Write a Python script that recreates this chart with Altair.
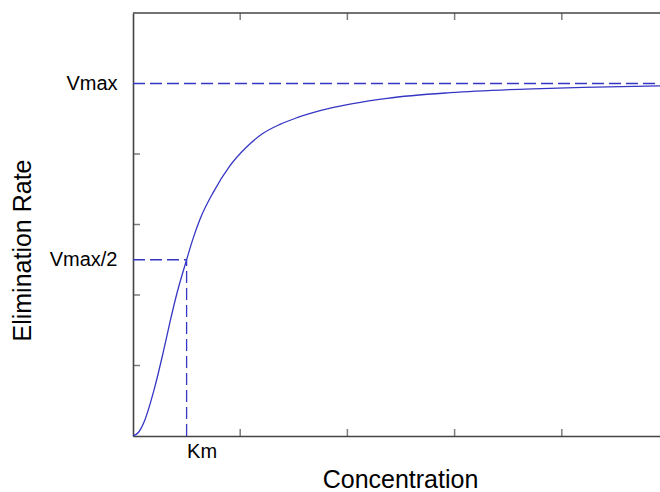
import altair as alt
import pandas as pd

# Curve values (concentration in tick units, rate as fraction of Vmax)
conc = [0, 0.05, 0.11, 0.2, 0.28, 0.35, 0.41, 0.5, 0.56, 0.625, 0.75, 0.9, 1.05,
        1.21, 1.37, 1.53, 1.84, 2.05, 2.37, 2.96, 3.73, 4.2, 4.916]
rate = [0, 0.01, 0.045, 0.135, 0.235, 0.33, 0.405, 0.5, 0.56, 0.615, 0.692, 0.765, 0.817,
        0.858, 0.884, 0.903, 0.93, 0.943, 0.958, 0.974, 0.985, 0.989, 0.993]

x_max = 4.916
y_max = 1.2
vmax = 1.0
km = 0.5
x_ticks = [1, 2, 3, 4]
y_ticks = [0.2, 0.4, 0.6, 0.8]

BLUE = "#3636c4"
AX = "#444444"
FONT = "Liberation Sans"

curve_df = pd.DataFrame({"x": conc, "y": rate})
xs = alt.Scale(domain=[0, x_max], nice=False, zero=False)
ys = alt.Scale(domain=[0, y_max], nice=False, zero=False)

curve = alt.Chart(curve_df).mark_line(color=BLUE, strokeWidth=1.3, interpolate="monotone").encode(
    x=alt.X("x:Q", scale=xs, axis=alt.Axis(
        title="Concentration", values=[km], labelExpr="'Km'", ticks=False, grid=False,
        domainColor=AX, domainWidth=1.6, labelAlign="left", labelBaseline="top",
        labelPadding=5, labelFontSize=20, labelFont=FONT, labelColor="black",
        titleFont=FONT, titleFontSize=25, titleFontWeight="normal", titleColor="black",
        titleX=267, titleY=51, titleBaseline="alphabetic", titleAlign="center")),
    y=alt.Y("y:Q", scale=ys, axis=alt.Axis(
        title="Elimination Rate", values=[km, vmax],
        labelExpr="datum.value == 1 ? 'Vmax' : 'Vmax/2'", ticks=False, grid=False,
        domainColor=AX, domainWidth=1.6, labelAlign="right", labelBaseline="middle",
        labelPadding=16, labelFontSize=20, labelFont=FONT, labelColor="black",
        titleFont=FONT, titleFontSize=25, titleFontWeight="normal", titleColor="black",
        titleX=-111, titleY=237, titleAngle=270, titleBaseline="middle", titleAlign="center")),
)

guide_df = pd.DataFrame({
    "x": [0, 0, km],
    "x2": [x_max, km, km],
    "y": [vmax, km, 0],
    "y2": [vmax, km, km],
})
guides = alt.Chart(guide_df).mark_rule(color=BLUE, strokeWidth=1.3, strokeDash=[12, 5]).encode(
    x=alt.X("x:Q", scale=xs, axis=None), x2="x2:Q",
    y=alt.Y("y:Q", scale=ys, axis=None), y2="y2:Q",
)

top_df = pd.DataFrame({"x": [0], "x2": [x_max], "y": [y_max]})
top_line = alt.Chart(top_df).mark_rule(color=AX, strokeWidth=1.6).encode(
    x=alt.X("x:Q", scale=xs, axis=None), x2="x2:Q",
    y=alt.Y("y:Q", scale=ys, axis=None),
)

xt_df = pd.DataFrame({"x": x_ticks, "yb": [0] * 4, "yt": [y_max] * 4})
bottom_ticks = alt.Chart(xt_df).mark_tick(orient="vertical", size=7, thickness=1.5, color=AX, yOffset=-3.5).encode(
    x=alt.X("x:Q", scale=xs, axis=None), y=alt.Y("yb:Q", scale=ys, axis=None))
top_ticks = alt.Chart(xt_df).mark_tick(orient="vertical", size=7, thickness=1.5, color=AX, yOffset=3.5).encode(
    x=alt.X("x:Q", scale=xs, axis=None), y=alt.Y("yt:Q", scale=ys, axis=None))

yt_df = pd.DataFrame({"y": y_ticks, "x": [0] * 4})
left_ticks = alt.Chart(yt_df).mark_tick(orient="horizontal", size=7, thickness=1.5, color=AX, xOffset=3.5).encode(
    x=alt.X("x:Q", scale=xs, axis=None), y=alt.Y("y:Q", scale=ys, axis=None))

chart = alt.layer(curve, guides, top_line, bottom_ticks, top_ticks, left_ticks).resolve_axis(
    x="independent", y="independent"
).properties(
    width=527, height=423,
    autosize=alt.AutoSizeParams(type="none"),
    padding={"left": 133, "top": 13, "right": 0, "bottom": 56},
    background="white",
).configure_view(strokeWidth=0)

chart.save("out.html", embed_options={"renderer": "svg", "actions": False})
